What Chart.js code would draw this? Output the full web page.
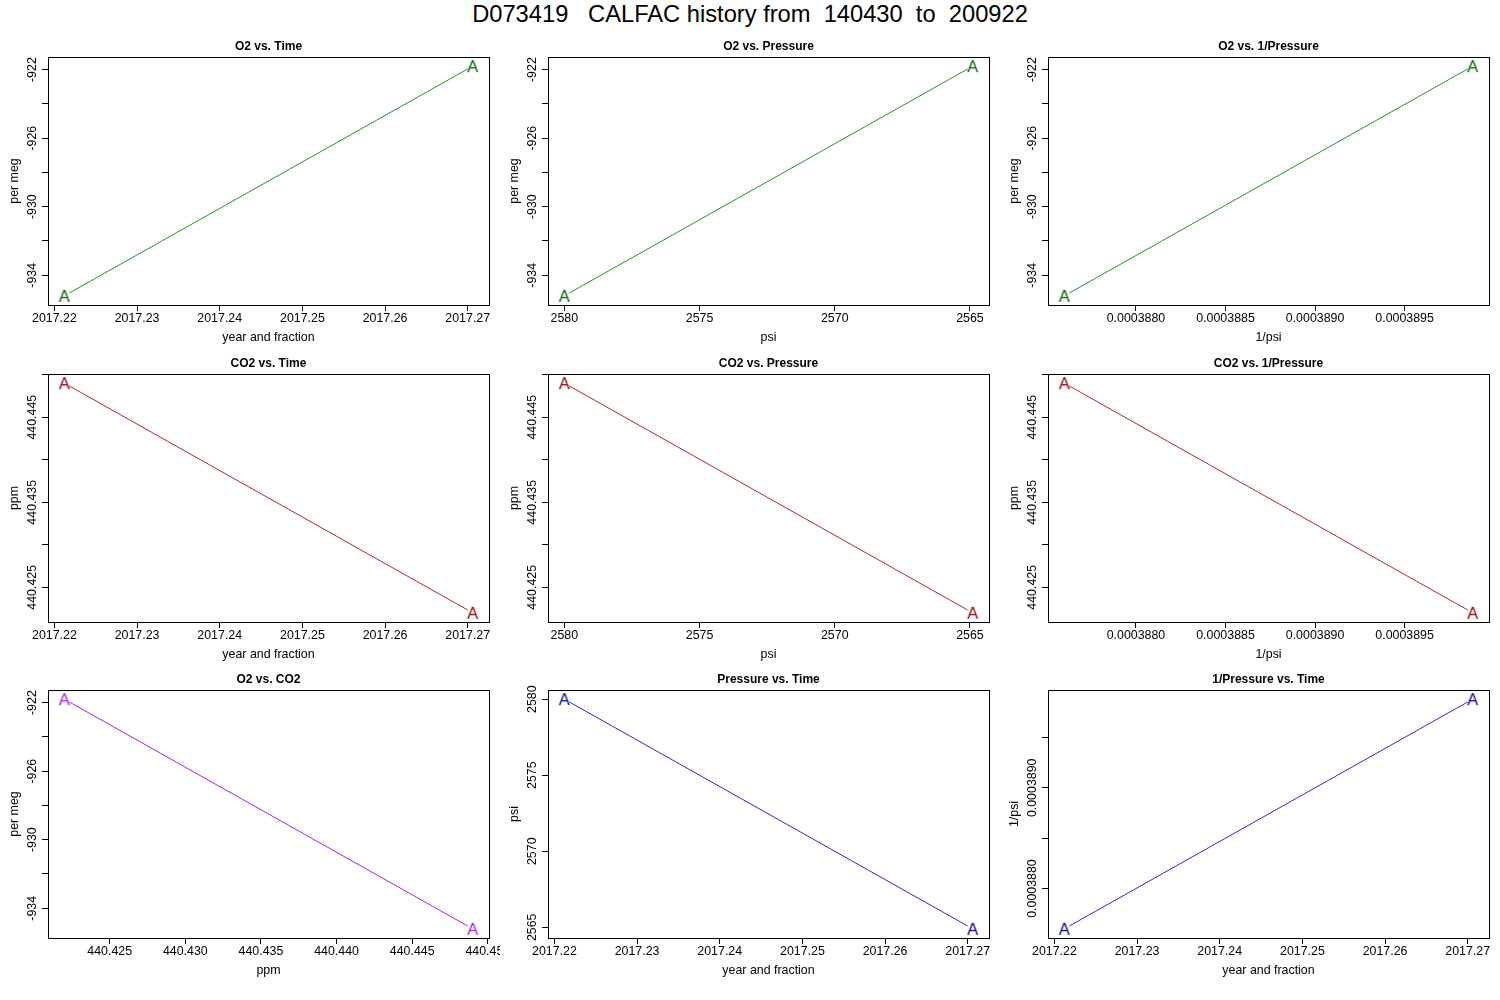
<!DOCTYPE html>
<html lang="en">
<head>
<meta charset="UTF-8">
<title>D073419 CALFAC history</title>
<style>
  body {
    margin: 0;
    background: #fff;
    font-family: "Liberation Sans", Arial, sans-serif;
  }
  #page {
    position: relative;
    width: 1500px;
    height: 1000px;
    overflow: hidden;
  }
  #main-title {
    position: absolute;
    left: 0;
    top: 0;
    width: 1500px;
    height: 28px;
    line-height: 28px;
    text-align: center;
    font-size: 23.7px;
    color: #000;
    white-space: pre;
  }
  canvas {
    position: absolute;
  }
</style>
</head>
<body>
<div id="page">
  <div id="main-title">D073419   CALFAC history from  140430  to  200922</div>
</div>

<script src="https://cdn.jsdelivr.net/npm/chart.js"></script>
<script>
// the two calibration runs, in time order
const years  = [2017.2212, 2017.2706];
const o2     = [-935.2, -921.8];          // per meg
const co2    = [440.4490, 440.4220];      // ppm
const psi    = [2580.0, 2564.9];
const invPsi = [0.00038760, 0.00038988];  // 1/psi

// tick marks, and the ones R had room to label on a vertical axis
const yearTicks    = [2017.22, 2017.23, 2017.24, 2017.25, 2017.26, 2017.27];
const o2Ticks      = [-934, -932, -930, -928, -926, -924, -922];
const o2Labels     = [-934, -930, -926, -922];
const co2Ticks     = [440.425, 440.430, 440.435, 440.440, 440.445, 440.450];
const co2Labels    = [440.425, 440.435, 440.445];
const psiTicks     = [2565, 2570, 2575, 2580];
const invPsiTicks  = [0.0003880, 0.0003885, 0.0003890, 0.0003895];
const invPsiLabels = [0.0003880, 0.0003890];

const axes = {
    time:   { values: years,  ticks: yearTicks,   yLabels: yearTicks,    digits: 2, title: 'year and fraction' },
    o2:     { values: o2,     ticks: o2Ticks,     yLabels: o2Labels,     digits: 0, title: 'per meg' },
    co2:    { values: co2,    ticks: co2Ticks,    yLabels: co2Labels,    digits: 3, title: 'ppm' },
    psi:    { values: psi,    ticks: psiTicks,    yLabels: psiTicks,     digits: 0, title: 'psi' },
    invPsi: { values: invPsi, ticks: invPsiTicks, yLabels: invPsiLabels, digits: 7, title: '1/psi' }
};

// line colour, symbol colour
const GREEN  = ['#2A8C2A', '#006400'];
const RED    = ['#B02828', '#8B0000'];
const PURPLE = ['#A020F0', '#A020F0'];
const BLUE   = ['#2B2BC4', '#00008B'];

const panels = [
    { title: 'O2 vs. Time',         x: 'time',   y: 'o2',     color: GREEN },
    { title: 'O2 vs. Pressure',     x: 'psi',    y: 'o2',     color: GREEN, reverseX: true },
    { title: 'O2 vs. 1/Pressure',   x: 'invPsi', y: 'o2',     color: GREEN },
    { title: 'CO2 vs. Time',        x: 'time',   y: 'co2',    color: RED },
    { title: 'CO2 vs. Pressure',    x: 'psi',    y: 'co2',    color: RED, reverseX: true },
    { title: 'CO2 vs. 1/Pressure',  x: 'invPsi', y: 'co2',    color: RED },
    { title: 'O2 vs. CO2',          x: 'co2',    y: 'o2',     color: PURPLE },
    { title: 'Pressure vs. Time',   x: 'time',   y: 'psi',    color: BLUE },
    { title: '1/Pressure vs. Time', x: 'time',   y: 'invPsi', color: BLUE }
];

const FONT = '"Liberation Sans", Arial, sans-serif';
const TICK_SIZE = 12.4;
Chart.defaults.font.family = FONT;
Chart.defaults.font.size = TICK_SIZE;
Chart.defaults.color = '#000';

// plot box geometry (R-like 3x3 layout)
const BOX_LEFT = [48, 548, 1048];
const BOX_TOP = [57, 374, 690];
const BOX_W = 441, BOX_H = 248;
const PAD_L = 48, PAD_T = 22, PAD_R = 11, PAD_B = 45;

// R pads the data range by 4% on each side
function rRange(arr) {
    const lo = Math.min(...arr), hi = Math.max(...arr);
    const ext = (hi - lo) * 0.04;
    return { min: lo - ext, max: hi + ext };
}

function hasValue(list, v) {
    return list.some(l => Math.abs(l - v) < 1e-10);
}

// letter "A" plotting symbol, with a small gap in the line round it
function letterPoint(color) {
    const c = document.createElement('canvas');
    c.width = 20;
    c.height = 20;
    const g = c.getContext('2d');
    g.fillStyle = '#fff';
    g.beginPath();
    g.arc(10, 10, 6, 0, Math.PI * 2);
    g.fill();
    g.fillStyle = color;
    g.font = '16.5px ' + FONT;
    g.textAlign = 'center';
    g.textBaseline = 'alphabetic';
    g.fillText('A', 10, 15.9);
    return c;
}

// box, panel title and rotated y tick labels, drawn like base R graphics
const rFrame = {
    id: 'rFrame',
    afterDraw(chart, args, opts) {
        const { ctx, chartArea: a } = chart;
        const ys = chart.scales.y;
        ctx.save();
        ctx.strokeStyle = '#000';
        ctx.lineWidth = 1;
        ctx.strokeRect(a.left + 0.5, a.top + 0.5, a.right - a.left, a.bottom - a.top);

        ctx.fillStyle = '#000';
        ctx.font = 'bold 12px ' + FONT;
        ctx.textAlign = 'center';
        ctx.textBaseline = 'middle';
        ctx.fillText(opts.title, (a.left + a.right) / 2, a.top - 10);

        ctx.font = TICK_SIZE + 'px ' + FONT;
        opts.axis.ticks.forEach(v => {
            if (!hasValue(opts.axis.yLabels, v)) return;
            ctx.save();
            ctx.translate(a.left - 15, ys.getPixelForValue(v));
            ctx.rotate(-Math.PI / 2);
            ctx.fillText(v.toFixed(opts.axis.digits), 0, 0);
            ctx.restore();
        });
        ctx.restore();
    }
};

const page = document.getElementById('page');

panels.forEach((p, i) => {
    const col = i % 3, row = Math.floor(i / 3);
    const xa = axes[p.x], ya = axes[p.y];
    const xr = rRange(xa.values), yr = rRange(ya.values);

    const canvas = document.createElement('canvas');
    canvas.width = PAD_L + BOX_W + PAD_R;
    canvas.height = PAD_T + BOX_H + PAD_B;
    canvas.style.left = (BOX_LEFT[col] - PAD_L) + 'px';
    canvas.style.top = (BOX_TOP[row] - PAD_T) + 'px';
    page.appendChild(canvas);

    const tickGrid = { drawOnChartArea: false, drawTicks: true, tickLength: 6, color: '#000', lineWidth: 1 };

    new Chart(canvas, {
        type: 'scatter',
        data: {
            datasets: [{
                data: xa.values.map((v, k) => ({ x: v, y: ya.values[k] })),
                showLine: true,
                borderColor: p.color[0],
                borderWidth: 1,
                pointStyle: letterPoint(p.color[1]),
                pointRadius: 8,
                pointHoverRadius: 8
            }]
        },
        options: {
            responsive: false,
            animation: false,
            devicePixelRatio: 1,
            events: [],
            layout: { padding: { top: PAD_T, right: PAD_R, left: 0, bottom: 0 } },
            plugins: {
                legend: { display: false },
                tooltip: { enabled: false },
                rFrame: { title: p.title, axis: ya }
            },
            scales: {
                x: {
                    type: 'linear',
                    position: 'bottom',
                    bounds: 'data',
                    min: xr.min,
                    max: xr.max,
                    reverse: !!p.reverseX,
                    afterBuildTicks: s => { s.ticks = xa.ticks.map(v => ({ value: v })); },
                    afterFit: s => { s.height = PAD_B; s.paddingLeft = 0; s.paddingRight = 0; },
                    grid: tickGrid,
                    border: { display: false },
                    ticks: {
                        autoSkip: false,
                        maxRotation: 0,
                        padding: 0.2,
                        callback: v => v.toFixed(xa.digits)
                    },
                    title: { display: true, text: xa.title, padding: { top: 0, bottom: 4.8 } }
                },
                y: {
                    type: 'linear',
                    position: 'left',
                    bounds: 'data',
                    min: yr.min,
                    max: yr.max,
                    afterBuildTicks: s => { s.ticks = ya.ticks.map(v => ({ value: v })); },
                    afterFit: s => { s.width = PAD_L; s.paddingTop = 0; s.paddingBottom = 0; },
                    grid: tickGrid,
                    border: { display: false },
                    ticks: { display: false },
                    title: { display: true, text: ya.title, padding: { top: 7.6, bottom: 0 } }
                }
            }
        },
        plugins: [rFrame]
    });
});
</script>
</body>
</html>
